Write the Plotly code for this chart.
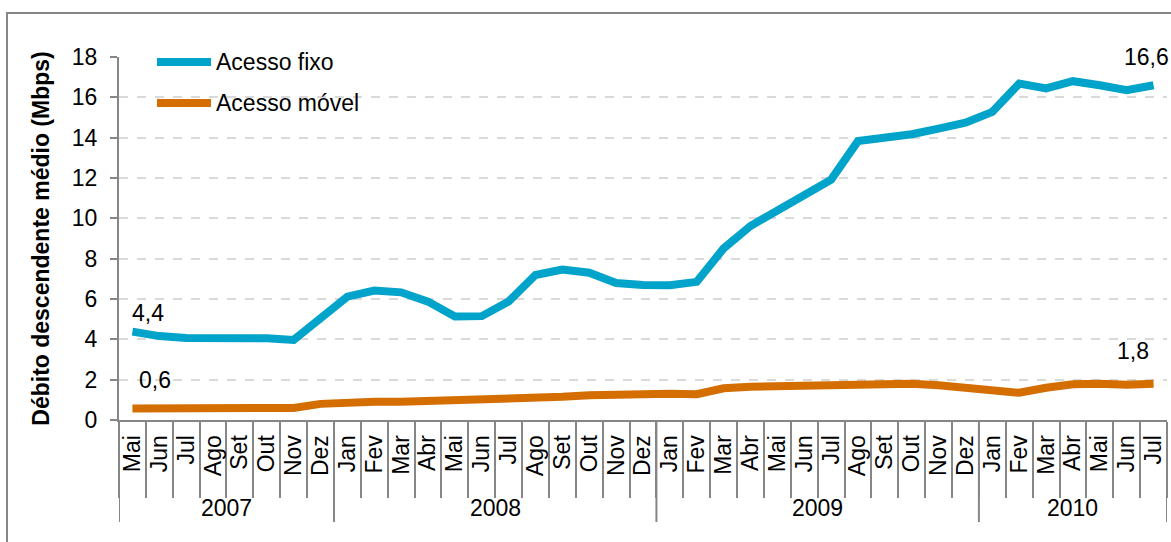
import plotly.graph_objects as go

years = ["2007"] * 8 + ["2008"] * 12 + ["2009"] * 12 + ["2010"] * 7
months = (["Mai", "Jun", "Jul", "Ago", "Set", "Out", "Nov", "Dez"]
          + ["Jan", "Fev", "Mar", "Abr", "Mai", "Jun", "Jul", "Ago", "Set", "Out", "Nov", "Dez"]
          + ["Jan", "Fev", "Mar", "Abr", "Mai", "Jun", "Jul", "Ago", "Set", "Out", "Nov", "Dez"]
          + ["Jan", "Fev", "Mar", "Abr", "Mai", "Jun", "Jul"])

fixo = [4.38, 4.16, 4.07, 4.09, 4.02, 4.05, 3.97, 5.1,
        6.12, 6.42, 6.33, 5.87, 5.13, 5.15, 5.88, 7.19, 7.46, 7.3, 6.79, 6.7,
        6.68, 6.85, 8.51, 9.62, 10.38, 11.1, 11.92, 13.83, 14.0, 14.17, 14.45, 14.74,
        15.28, 16.68, 16.44, 16.8, 16.6, 16.35, 16.6]
movel = [0.57, 0.57, 0.57, 0.56, 0.58, 0.52, 0.6, 0.8,
         0.87, 0.9, 0.9, 0.93, 0.96, 1.0, 1.08, 1.1, 1.15, 1.23, 1.27, 1.31,
         1.3, 1.28, 1.57, 1.65, 1.68, 1.7, 1.73, 1.8, 1.75, 1.8, 1.72, 1.6,
         1.55, 1.35, 1.6, 1.77, 1.8, 1.75, 1.8]

series_names = ["Acesso fixo", "Acesso móvel"]
colors = ["#00A3C9", "#D46E00"]
y_title = "Débito descendente médio (Mbps)"

FONT = "Liberation Sans, Arial, sans-serif"
FS = 23
W, H = 1171, 542
L, R, T, B = 119, 4, 57, 122
PW, PH = W - L - R, H - T - B


def px_x(p):
    return (p - L) / PW


def px_y(p):
    return (H - B - p) / PH


def fmt(v):
    return f"{v:.1f}".replace(".", ",")


n = len(months)
xs = list(range(n))

fig = go.Figure()
for name, vals, col in zip(series_names, [fixo, movel], colors):
    fig.add_trace(go.Scatter(
        x=xs, y=vals, name=name, mode="lines",
        line=dict(color=col, width=8), showlegend=False,
        hoverinfo="skip",
    ))

# data labels (first / last points)
label_offsets = {
    ("fixo", 0): (16, 19), ("fixo", -1): (-7, 28),
    ("movel", 0): (23, 29), ("movel", -1): (-21, 33),
}
for key, vals in [("fixo", fixo), ("movel", movel)]:
    for idx in (0, -1):
        dx, dy = label_offsets[(key, idx)]
        fig.add_annotation(
            x=xs[idx], y=vals[idx], xref="x", yref="y",
            text=fmt(vals[idx]), showarrow=False,
            xshift=dx, yshift=dy, xanchor="center", yanchor="middle",
            font=dict(family=FONT, size=FS, color="#000000"),
        )

# year group labels and dividers
groups = []
for i, y in enumerate(years):
    if not groups or groups[-1][0] != y:
        groups.append([y, i, i])
    else:
        groups[-1][2] = i
bounds = sorted({g[1] - 0.5 for g in groups} | {groups[-1][2] + 0.5})
for b in bounds:
    fig.add_shape(type="line", xref="x", yref="paper",
                  x0=b, x1=b, y0=0, y1=px_y(522),
                  line=dict(color="#868686", width=2))
for y, i0, i1 in groups:
    fig.add_annotation(x=(i0 + i1) / 2, y=px_y(508), xref="x", yref="paper",
                       text=y, showarrow=False, xanchor="center", yanchor="middle",
                       font=dict(family=FONT, size=FS, color="#000000"))

# manual legend
legend_rows = [62, 103]
for name, col, ypx in zip(series_names, colors, legend_rows):
    fig.add_shape(type="line", xref="paper", yref="paper",
                  x0=px_x(157), x1=px_x(211), y0=px_y(ypx), y1=px_y(ypx),
                  line=dict(color=col, width=8))
    fig.add_annotation(x=px_x(214), y=px_y(ypx), xref="paper", yref="paper",
                       text=name, showarrow=False, xanchor="left", yanchor="middle",
                       font=dict(family=FONT, size=FS, color="#000000"))

# outer chart border
fig.add_shape(type="rect", xref="paper", yref="paper",
              x0=px_x(7), y0=px_y(560), x1=px_x(1180), y1=px_y(13),
              line=dict(color="#868686", width=2), fillcolor="rgba(0,0,0,0)",
              layer="below")

fig.update_layout(
    width=W, height=H, autosize=False,
    margin=dict(l=L, r=R, t=T, b=B),
    paper_bgcolor="white", plot_bgcolor="white",
    font=dict(family=FONT, size=FS, color="#000000"),
    showlegend=False,
)
fig.update_xaxes(
    range=[-0.5, n - 0.5], tickmode="array", tickvals=xs, ticktext=months,
    tickangle=-90, ticks="", ticklabelstandoff=4,
    showline=True, linecolor="#868686", linewidth=2,
    minor=dict(ticks="outside", tickmode="linear", tick0=-0.5, dtick=1,
               ticklen=76, tickcolor="#868686", tickwidth=1.5, showgrid=False),
    showgrid=False, zeroline=False,
    tickfont=dict(family=FONT, size=FS, color="#000000"),
)
fig.update_yaxes(
    range=[0, 18], dtick=2, tick0=0,
    showline=True, linecolor="#868686", linewidth=2,
    ticks="outside", ticklen=7, tickcolor="#868686", tickwidth=2,
    ticklabelstandoff=8,
    showgrid=True, gridcolor="#D9D9D9", griddash="dash", gridwidth=1.5,
    zeroline=False, tickfont=dict(family=FONT, size=FS, color="#000000"),
    title=dict(text="<b>" + y_title + "</b>", standoff=16,
               font=dict(family=FONT, size=FS, color="#000000")),
)

fig.write_html("out.html",
               config={"displayModeBar": False},
               post_script="document.body.style.margin='0';document.body.style.overflow='hidden';")
